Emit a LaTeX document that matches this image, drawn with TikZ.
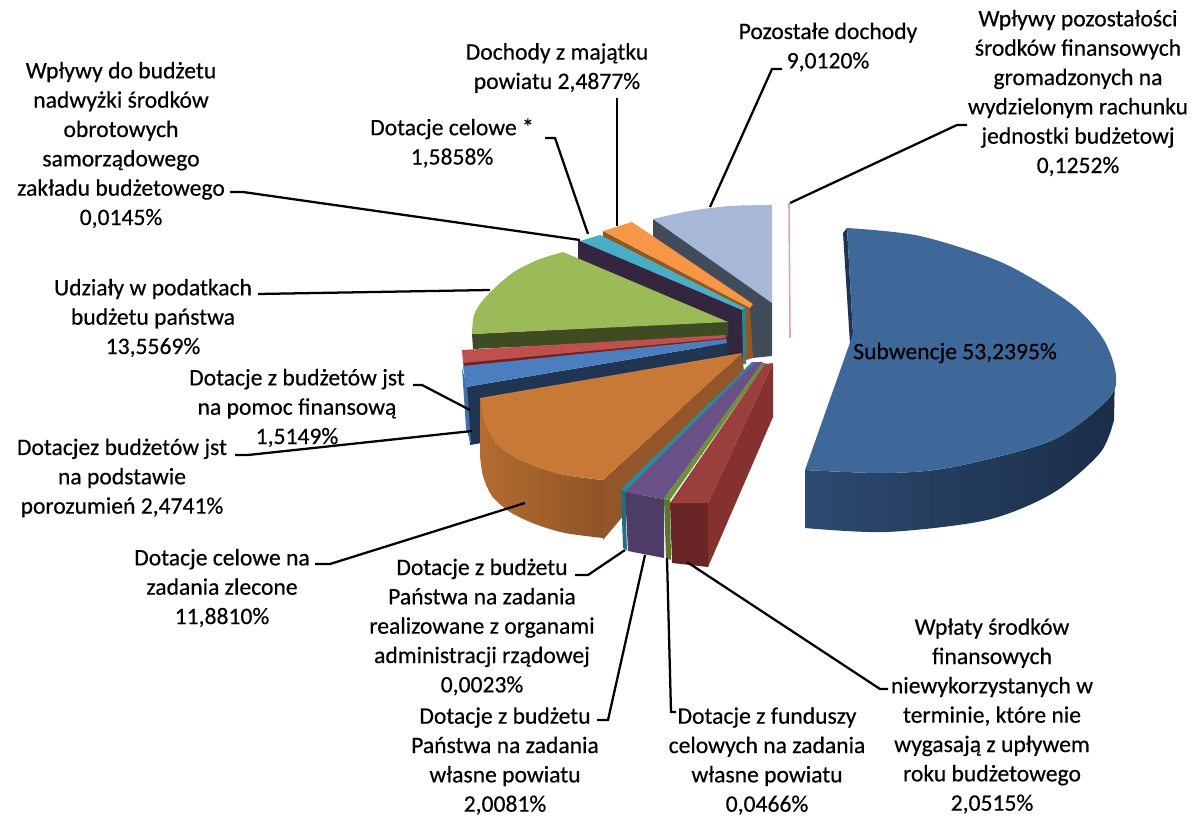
\documentclass[tikz,border=0pt]{standalone}
\usepackage{fontspec}
\setmainfont{Carlito}
\newfontfamily\lblfont{Carlito}[FakeBold=0.4]
\definecolor{subTop}{HTML}{3D6899}
\definecolor{subSideL}{HTML}{2C4A70}
\definecolor{subSideR}{HTML}{1B2D47}
\definecolor{subRad}{HTML}{1E3453}
\definecolor{wplTop}{HTML}{9B3F3D}
\definecolor{wplRad}{HTML}{84312F}
\definecolor{wplFront}{HTML}{6A2627}
\definecolor{gthin}{HTML}{6E8F3B}
\definecolor{gthinF}{HTML}{5B7530}
\definecolor{purTop}{HTML}{6A5288}
\definecolor{purF}{HTML}{4D3C66}
\definecolor{tealT}{HTML}{2E8A9B}
\definecolor{tealF}{HTML}{246F7D}
\definecolor{orTop}{HTML}{C97936}
\definecolor{orSideL}{HTML}{B46C30}
\definecolor{orSideR}{HTML}{8F5426}
\definecolor{orRad}{HTML}{93562A}
\definecolor{navy}{HTML}{1F3551}
\definecolor{bluTop}{HTML}{4A7EBE}
\definecolor{bluStrip}{HTML}{3F70AA}
\definecolor{redTop}{HTML}{C0504D}
\definecolor{redDark}{HTML}{6E2322}
\definecolor{grTop}{HTML}{9BBB59}
\definecolor{olive}{HTML}{3F4B23}
\definecolor{dpur}{HTML}{35263F}
\definecolor{cyanT}{HTML}{4BACC6}
\definecolor{cyanD}{HTML}{2F8193}
\definecolor{orsTop}{HTML}{F79646}
\definecolor{brownS}{HTML}{8E5A1F}
\definecolor{pozTop}{HTML}{A7B8D6}
\definecolor{pozSide}{HTML}{424B5A}
\definecolor{pinkS}{HTML}{E9A3A3}
\begin{document}
\begin{tikzpicture}[x=0.75pt,y=-0.75pt,
  lbl/.style={font=\lblfont\fontsize{17.7}{22}\selectfont, align=center, inner sep=0pt, text=black},
  lead/.style={draw=black, line width=1.7pt},
]
\useasboundingbox (0,0) rectangle (1199,817);
\fill[white] (0,0) rectangle (1199,817);

% ---- Pozostale dochody
\fill[pozSide] (653,219) -- (772,302) -- (772,356) -- (752,358) -- (653,290) -- cycle;
\fill[pozTop] (772,303) -- (653,219) -- plot[smooth] coordinates {(653,219) (690,211) (730,206) (772,205)} -- cycle;
% ---- Dochody z majatku
\fill[brownS] (603,231) -- (750,308) -- (753,358) -- (746,360) -- (600,290) -- cycle;
\fill[orsTop] (603,231) -- (632,222) -- (753,304) -- (750,308) -- cycle;
% ---- nadwyzki (dark purple face)
\fill[dpur] (578,240) -- (743,308) -- (743,364) -- (578,298) -- cycle;
% ---- Dotacje celowe *
\fill[cyanD] (742,310) -- (746,307) -- (746,364) -- (743,364) -- cycle;
\fill[cyanT] (580,241) -- (600,235) -- (745,308) -- (742,310) -- cycle;
% ---- Udzialy
\fill[olive] (472,334) -- (728,321) -- (728,337) -- (473,349) -- cycle;
\fill[grTop] (563,252) -- (728,322) -- (472,334) -- plot[smooth] coordinates {(472,334) (474,315) (483,300) (500,283) (517,270) (540,259) (563,252)} -- cycle;
% ---- pomoc finansowa (red)
\fill[redDark] (463,362) -- (726,337) -- (727,341) -- (464,368) -- cycle;
\fill[redTop] (462,350) -- (725,335) -- (726,338) -- (463,363) -- cycle;
% ---- porozumien (blue / navy)
\fill[navy] (466,387) -- (727,343) -- (727,401) -- (470,445) -- cycle;
\fill[bluStrip] (462,368) -- (467,386) -- (471,444) -- (466,428) -- cycle;
\fill[bluTop] (463,366) -- (726,339) -- (727,343) -- (466,387) -- cycle;
% ---- zlecone (big orange)
\fill[orRad] (742,353) -- (744,372) -- (603,540) -- (603,480) -- cycle;
\path[left color=orSideL, right color=orSideR] plot[smooth] coordinates {(480,398) (483,418) (492,438) (510,454) (535,466) (565,475) (603,480)} -- (603,538) -- plot[smooth] coordinates {(603,538) (565,533) (535,524) (510,512) (492,496) (483,476) (480,456)} -- cycle;
\fill[orTop] (742,353) -- (480,398) -- plot[smooth] coordinates {(480,398) (483,418) (492,438) (510,454) (535,466) (565,475) (603,480)} -- cycle;
% ---- realizowane (teal thin)
\fill[tealF] (621,489) -- (625,492) -- (627,550) -- (623,548) -- cycle;
\fill[tealT] (752,362) -- (756,362) -- (625,492) -- (621,489) -- cycle;
% ---- wlasne (purple)
\fill[purF] (625,492) -- (664,499) -- (664,558) -- (628,551) -- cycle;
\fill[purTop] (755,362) -- (763,362) -- (664,499) -- (625,492) -- cycle;
% ---- fundusze (green thin)
\fill[gthinF] (664,499) -- (670,500) -- (671,560) -- (666,558) -- cycle;
\fill[gthin] (762,363) -- (766,363) -- (670,500) -- (664,499) -- cycle;
% ---- Wplaty (red)
\fill[wplRad] (773,363) -- (773,417) -- (708,567) -- (708,503) -- cycle;
\fill[wplFront] (670,503) -- (708,503) -- (708,567) -- (672,563) -- cycle;
\fill[wplTop] (765,364) -- (773,363) -- (708,503) -- (670,503) -- cycle;
% ---- Subwencje
\fill[subRad] (843,233) -- (847,228) -- (853,334) -- (850,344) -- cycle;
\path[left color=subSideL, right color=subSideR] plot[smooth] coordinates {(805,470) (887,473) (953,467) (1053,440) (1110,397) (1115,370)} -- (1114,420) -- plot[smooth] coordinates {(1114,420) (1100,453) (1053,493) (987,520) (887,532) (805,528)} -- cycle;
\fill[subTop] (847,228) -- (853,334) -- (805,470) -- plot[smooth] coordinates {(805,470) (887,473) (953,467) (1053,440) (1110,397) (1115,370) (1102,337) (1070,303) (1003,263) (920,236) (847,228)} -- cycle;
% ---- pozostalosci (pink)
\draw[pinkS, line width=1.2pt] (789,203) -- (790,338);

% ---- labels
\node[lbl, anchor=west] (sub) at (853,353) {Subwencje 53,2395\%};
\node[lbl] (l1) at (121,145) {Wpływy do budżetu\\nadwyżki środków\\obrotowych\\samorządowego\\zakładu budżetowego\\0,0145\%};
\node[lbl] (l2) at (452,143) {Dotacje celowe *\\1,5858\%};
\node[lbl] (l3) at (557,68) {Dochody z majątku\\powiatu 2,4877\%};
\node[lbl] (l4) at (828,47) {Pozostałe dochody\\9,0120\%};
\node[lbl] (l5) at (1078,93) {Wpływy pozostałości\\środków finansowych\\gromadzonych na\\wydzielonym rachunku\\jednostki budżetowj\\0,1252\%};
\node[lbl] (l6) at (153,318) {Udziały w podatkach\\budżetu państwa\\13,5569\%};
\node[lbl] (l7) at (297,408) {Dotacje z budżetów jst\\na pomoc finansową\\1,5149\%};
\node[lbl] (l8) at (122,478) {Dotacjez budżetów jst\\na podstawie\\porozumień 2,4741\%};
\node[lbl] (l9) at (222,588) {Dotacje celowe na\\zadania zlecone\\11,8810\%};
\node[lbl] (l10) at (482,627) {Dotacje z budżetu\\Państwa na zadania\\realizowane z organami\\administracji rządowej\\0,0023\%};
\node[lbl] (l11) at (505,761) {Dotacje z budżetu\\Państwa na zadania\\własne powiatu\\2,0081\%};
\node[lbl] (l12) at (767,761) {Dotacje z funduszy\\celowych na zadania\\własne powiatu\\0,0466\%};
\node[lbl] (l13) at (992,716) {Wpłaty środków\\finansowych\\niewykorzystanych w\\terminie, które nie\\wygasają z upływem\\roku budżetowego\\2,0515\%};

% ---- leader line endpoints
\coordinate (e1) at (580,240);
\coordinate (e2) at (588,234);
\coordinate (e3) at (617,226);
\coordinate (e4) at (710,207);
\coordinate (e5) at (790,203);
\coordinate (e6) at (490,290);
\coordinate (e7) at (470,410);
\coordinate (e8) at (472,431);
\coordinate (e9) at (525,503);
\coordinate (e10) at (625,550);
\coordinate (e11) at (645,555);
\coordinate (e12) at (667,558);
\coordinate (e13) at (687,562);

\draw[lead] (230,192) -- (243,192) -- (e1);
\draw[lead] (545,138) -- (555,138) -- (e2);
\draw[lead] (617,98) -- (e3);
\draw[lead] (782,69) -- (772,69) -- (e4);
\draw[lead] (967,125) -- (957,125) -- (e5);
\draw[lead] (258,294) -- (e6);
\draw[lead] (413,385) -- (422,385) -- (e7);
\draw[lead] (235,455) -- (248,455) -- (e8);
\draw[lead] (315,564) -- (330,564) -- (e9);
\draw[lead] (575,575) -- (588,575) -- (e10);
\draw[lead] (597,720) -- (608,720) -- (e11);
\draw[lead] (676,712) -- (671,712) -- (e12);
\draw[lead] (888,689) -- (880,689) -- (e13);
\end{tikzpicture}
\end{document}
